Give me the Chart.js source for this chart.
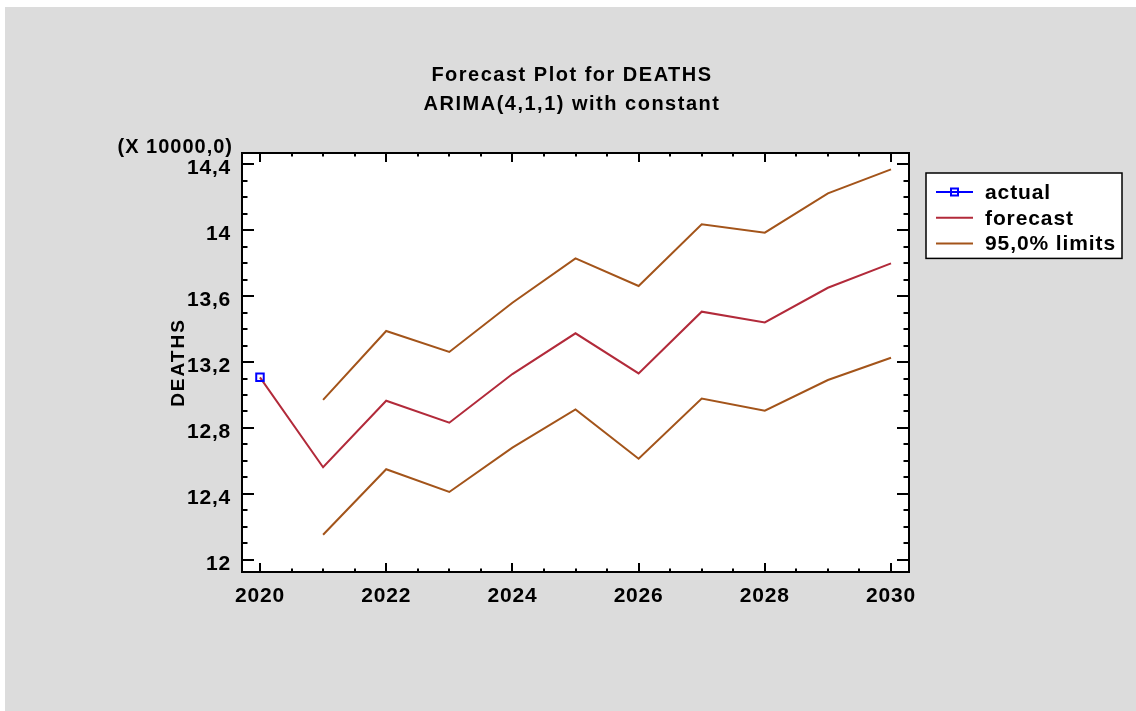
<!DOCTYPE html>
<html>
<head>
<meta charset="utf-8">
<title>Forecast Plot for DEATHS</title>
<script src="https://cdn.jsdelivr.net/npm/chart.js@4/dist/chart.umd.min.js"></script>
<style>
  html, body { margin: 0; padding: 0; background: #ffffff; }
  #wrap { width: 1136px; height: 711px; position: relative; }
  canvas { display: block; }
</style>
</head>
<body>
<div id="wrap"><canvas id="c" width="1136" height="711"></canvas></div>
<script>
// Values are in units of 10000 deaths, as on the axis.
const years        = [2020, 2021, 2022, 2023, 2024, 2025, 2026, 2027, 2028, 2029, 2030];
const actualYears  = [2020];
const actual       = [13.107];
const forecast     = [13.107, 12.562, 12.965, 12.832, 13.127, 13.374, 13.131, 13.505, 13.440, 13.650, 13.798];
const limitYears   = [2021, 2022, 2023, 2024, 2025, 2026, 2027, 2028, 2029, 2030];
const upperLimit   = [12.970, 13.388, 13.261, 13.559, 13.828, 13.661, 14.035, 13.984, 14.222, 14.368];
const lowerLimit   = [12.153, 12.550, 12.412, 12.681, 12.913, 12.614, 12.978, 12.905, 13.091, 13.226];

const xTickLabels  = [2020, 2022, 2024, 2026, 2028, 2030];
const yTickLabels  = [12, 12.4, 12.8, 13.2, 13.6, 14, 14.4];
const xMinorStep   = 0.5;
const yMinorStep   = 0.1;

const titleLines   = ['Forecast Plot for DEATHS', 'ARIMA(4,1,1) with constant'];
const yAxisTitle   = 'DEATHS';
const yScaleNote   = '(X 10000,0)';

const FONT = '"Liberation Sans", Arial, Helvetica, sans-serif';
const BLUE = '#0000ff';
const RED = '#b22a3a';
const BROWN = '#a3541a';

const pts = (xs, ys) => xs.map((x, i) => ({ x: x, y: ys[i] }));
const fmtComma = v => {
  const r = Math.round(v * 10) / 10;
  return String(r).replace('.', ',');
};

// Background, white plot area, frame, inward ticks, titles and boxed legend
const decor = {
  id: 'decor',
  beforeDraw(chart) {
    const ctx = chart.ctx, a = chart.chartArea;
    ctx.save();
    ctx.fillStyle = '#ffffff';
    ctx.fillRect(0, 0, chart.width, chart.height);
    ctx.fillStyle = '#dcdcdc';
    ctx.fillRect(5, 7, chart.width - 5, chart.height - 7);
    ctx.fillStyle = '#ffffff';
    ctx.fillRect(a.left, a.top, a.right - a.left, a.bottom - a.top);
    ctx.restore();
    ctx.letterSpacing = '0.8px';
  },
  afterDraw(chart) {
    const ctx = chart.ctx, a = chart.chartArea;
    const xs = chart.scales.x, ys = chart.scales.y;
    ctx.save();
    ctx.strokeStyle = '#000000';
    ctx.lineWidth = 2;
    ctx.lineCap = 'butt';

    // inward tick marks on all four sides
    const line = (x1, y1, x2, y2) => { ctx.beginPath(); ctx.moveTo(x1, y1); ctx.lineTo(x2, y2); ctx.stroke(); };
    const isMajor = (v, list) => list.some(t => Math.abs(t - v) < 1e-6);
    const xStart = Math.ceil(xs.min / xMinorStep) * xMinorStep;
    for (let v = xStart; v <= xs.max + 1e-9; v += xMinorStep) {
      const px = Math.round(xs.getPixelForValue(v));
      const len = isMajor(v, xTickLabels) ? 9 : 3.5;
      line(px, a.bottom, px, a.bottom - len);
      line(px, a.top, px, a.top + len);
    }
    const yStart = Math.ceil(ys.min / yMinorStep - 1e-6) * yMinorStep;
    for (let v = yStart; v <= ys.max + 1e-9; v += yMinorStep) {
      const py = Math.round(ys.getPixelForValue(v));
      const len = isMajor(v, yTickLabels) ? 12 : 5.5;
      line(a.left, py, a.left + len, py);
      line(a.right, py, a.right - len, py);
    }

    // frame
    ctx.strokeRect(a.left, a.top, a.right - a.left, a.bottom - a.top);

    // titles
    ctx.fillStyle = '#000000';
    ctx.font = 'bold 20px ' + FONT;
    ctx.letterSpacing = '1.5px';
    ctx.textAlign = 'center';
    ctx.textBaseline = 'alphabetic';
    const cx = chart.width / 2 + 4;
    ctx.fillText(titleLines[0], cx, a.top - 72);
    ctx.fillText(titleLines[1], cx, a.top - 43);

    // scale note above the y axis
    ctx.font = 'bold 20px ' + FONT;
    ctx.letterSpacing = '1px';
    ctx.textAlign = 'right';
    ctx.fillText(yScaleNote, a.left - 9, a.top);

    // rotated y-axis title
    ctx.save();
    ctx.translate(a.left - 63, (a.top + a.bottom) / 2);
    ctx.rotate(-Math.PI / 2);
    ctx.font = 'bold 19px ' + FONT;
    ctx.letterSpacing = '2px';
    ctx.textAlign = 'center';
    ctx.textBaseline = 'middle';
    ctx.fillText(yAxisTitle, 0, 0);
    ctx.restore();

    // legend box
    const seen = new Set();
    const items = chart.data.datasets.filter(d => {
      if (seen.has(d.label)) return false;
      seen.add(d.label);
      return true;
    });
    const lx = a.right + 17, ly = a.top + 20, lw = 196, rowH = 25.8;
    const lh = items.length * rowH + 8;
    ctx.fillStyle = '#ffffff';
    ctx.fillRect(lx, ly, lw, lh);
    ctx.lineWidth = 1.5;
    ctx.strokeStyle = '#000000';
    ctx.strokeRect(lx, ly, lw, lh);
    ctx.font = 'bold 21px ' + FONT;
    ctx.letterSpacing = '0.9px';
    ctx.textAlign = 'left';
    ctx.textBaseline = 'middle';
    items.forEach((d, i) => {
      const ry = ly + 19 + i * rowH;
      ctx.strokeStyle = d.borderColor;
      ctx.lineWidth = 2;
      line(lx + 10, ry, lx + 47, ry);
      if (d.pointRadius > 0) {
        ctx.strokeRect(lx + 25, ry - 3.5, 7, 7);
      }
      ctx.fillStyle = '#000000';
      ctx.fillText(d.label, lx + 59, ry + 1);
    });
    ctx.restore();
  }
};

new Chart(document.getElementById('c'), {
  type: 'line',
  data: {
    datasets: [
      {
        label: 'actual',
        data: pts(actualYears, actual),
        borderColor: BLUE,
        backgroundColor: 'transparent',
        borderWidth: 2,
        pointStyle: 'rect',
        pointRadius: 5.3,
        pointBorderWidth: 2,
        pointBorderColor: BLUE,
        pointBackgroundColor: 'rgba(0,0,0,0)',
        showLine: true
      },
      {
        label: 'forecast',
        data: pts(years, forecast),
        borderColor: RED,
        borderWidth: 2,
        pointRadius: 0,
        fill: false
      },
      {
        label: '95,0% limits',
        data: pts(limitYears, upperLimit),
        borderColor: BROWN,
        borderWidth: 2,
        pointRadius: 0,
        fill: false
      },
      {
        label: '95,0% limits',
        data: pts(limitYears, lowerLimit),
        borderColor: BROWN,
        borderWidth: 2,
        pointRadius: 0,
        fill: false
      }
    ]
  },
  options: {
    responsive: false,
    animation: false,
    devicePixelRatio: 1,
    layout: { padding: { left: 0, top: 153, right: 227, bottom: 0 } },
    plugins: {
      legend: { display: false },
      title: { display: false },
      tooltip: { enabled: false }
    },
    elements: { line: { tension: 0, borderJoinStyle: 'miter' } },
    scales: {
      x: {
        type: 'linear',
        min: 2019.715,
        max: 2030.285,
        grid: { display: false },
        border: { display: false },
        afterBuildTicks: s => { s.ticks = xTickLabels.map(v => ({ value: v })); },
        afterFit: s => { s.height = 139; },
        ticks: {
          autoSkip: false,
          maxRotation: 0,
          padding: 4,
          color: '#000000',
          font: { family: FONT, size: 21, weight: 'bold' },
          callback: v => String(v)
        }
      },
      y: {
        type: 'linear',
        min: 11.927,
        max: 14.467,
        grid: { display: false },
        border: { display: false },
        afterBuildTicks: s => { s.ticks = yTickLabels.map(v => ({ value: v })); },
        afterFit: s => { s.width = 242; },
        ticks: {
          autoSkip: false,
          padding: 3,
          labelOffset: 4,
          color: '#000000',
          font: { family: FONT, size: 21, weight: 'bold' },
          callback: v => fmtComma(v)
        }
      }
    }
  },
  plugins: [decor]
});
</script>
</body>
</html>
